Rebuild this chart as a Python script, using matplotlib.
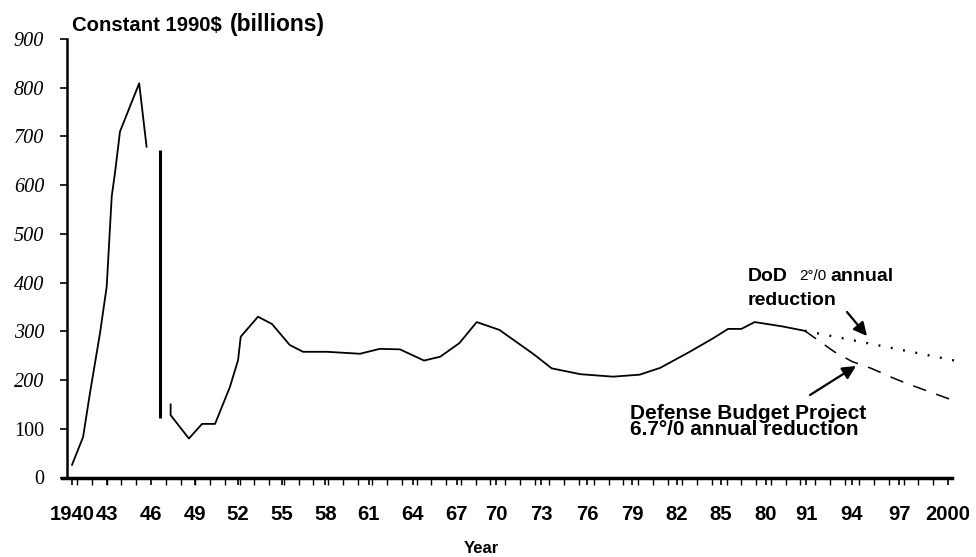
import matplotlib
matplotlib.use("Agg")
import matplotlib.pyplot as plt
import numpy as np

# ---- data ----
hist_years = [1940.65, 1941.4, 1941.87, 1942.55, 1943.0, 1943.34, 1943.56, 1943.9,
              1945.2, 1945.7, np.nan,
              1947.33, 1947.33, 1948.57, 1949.46, 1950.34, 1951.35, 1951.9, 1952.08,
              1953.25, 1954.2, 1955.4, 1956.3, 1957.9, 1960.16, 1961.5, 1962.87,
              1964.5, 1965.6, 1966.9, 1968.07, 1969.6, 1971.7, 1972.1, 1973.15,
              1975.1, 1977.3, 1979.1, 1980.5, 1982.5, 1984.1, 1985.1, 1986.0, 1986.9,
              1988.8, 1990.3]
hist_values = [26, 83, 174, 297, 392, 577, 625, 710,
               809, 679, np.nan,
               150, 128, 80, 110, 110, 186, 241, 289,
               330, 315, 272, 258, 258, 254, 264, 263,
               240, 248, 276, 319, 303, 258, 249, 224,
               212, 207, 211, 225, 258, 286, 305, 305, 319,
               310, 301]

# post-war drop (drawn as a heavy vertical stroke in the original)
drop_year = [1946.6]
drop_top = [672]
drop_bottom = [122]

# projections
dod_years = [1990.3, 1992.0, 1994.0, 1996.0, 1998.0, 2000.95]
dod_values = [301, 291, 279, 267, 255, 237]

dbp_years = [1990.3, 1992.3, 1993.5, 1994.8, 1996.3, 1997.2, 2000.1]
dbp_values = [301, 258, 238, 224, 204, 193, 161]

xtick_pos = [1940.65, 1943.02, 1946, 1948.95, 1951.89, 1954.88, 1957.82, 1960.77,
             1963.75, 1966.73, 1969.37, 1972.42, 1975.54, 1978.59, 1981.64, 1984.62,
             1987.67, 1990.38, 1993.49, 1996.68, 2000]
xtick_labels = ["1940", "43", "46", "49", "52", "55", "58", "61", "64", "67", "70",
                "73", "76", "79", "82", "85", "80", "91", "94", "97", "2000"]
ytick_vals = [0, 100, 200, 300, 400, 500, 600, 700, 800, 900]

W, H = 976, 557
fig = plt.figure(figsize=(W / 100, H / 100), dpi=100)
ax = fig.add_axes([67 / W, 1 - 477.5 / H, (952 - 67) / W, (477.5 - 39) / H])

def fp(x, y):
    return (x / W, 1 - y / H)

ax.plot(hist_years, hist_values, color="black", lw=1.3)
ax.vlines(drop_year, drop_bottom, drop_top, color="black", lw=2.2)
ax.plot(dod_years, dod_values, color="black", lw=1.7, linestyle=(0, (0.8, 4.5)),
        clip_on=False)
ax.plot(dbp_years, dbp_values, color="black", lw=1.1, linestyle=(0, (9, 7)),
        clip_on=False)

ax.set_xlim(1940.31, 2000.27)
ax.set_ylim(0, 900)

for s in ("top", "right"):
    ax.spines[s].set_visible(False)
ax.spines["left"].set_linewidth(1.8)
ax.spines["bottom"].set_linewidth(2.5)
ax.spines["bottom"].set_bounds(1939.97, 2000.27)
ax.spines["bottom"].set_clip_on(False)

ax.set_yticks(ytick_vals)
ax.set_yticklabels([str(v) for v in ytick_vals], family="Liberation Serif",
                   style="italic", fontsize=14.5)
for lab in ax.get_yticklabels()[:2]:
    lab.set_style("normal")
ax.tick_params(axis="y", length=5, width=1.2, pad=11.5, direction="out")

ax.set_xticks(xtick_pos)
ax.set_xticklabels(xtick_labels, family="Liberation Sans", fontweight="bold",
                   fontsize=14.6)
ax.set_xticks(np.arange(1941, 2001), minor=True)
ax.tick_params(axis="x", which="major", length=5, width=1.2, pad=15)
ax.tick_params(axis="x", which="minor", length=5, width=1.0)

fig.text(*fp(72, 31), "Constant 1990$", family="Liberation Sans", fontweight="bold",
         fontsize=14.6, va="baseline", ha="left")
fig.text(*fp(230, 31), "(billions)", family="Liberation Sans", fontweight="bold",
         fontsize=16.4, va="baseline", ha="left")
fig.text(*fp(481, 553), "Year", family="Liberation Sans", fontweight="bold",
         fontsize=12, va="baseline", ha="center")

# DoD annotation
fig.text(*fp(748, 281), "DoD", family="Liberation Sans", fontweight="bold",
         fontsize=14, va="baseline")
fig.text(*fp(799, 280), "2°/0", family="Liberation Sans", fontsize=11,
         va="baseline")
fig.text(*fp(830, 281), "annual", family="Liberation Sans", fontweight="bold",
         fontsize=14, va="baseline")
fig.text(*fp(748, 305), "reduction", family="Liberation Sans", fontweight="bold",
         fontsize=14, va="baseline")
ax.annotate("", xy=fp(867, 336), xytext=fp(847, 312), xycoords="figure fraction",
            textcoords="figure fraction",
            arrowprops=dict(arrowstyle="-|>", color="black", lw=1.6,
                            mutation_scale=20, shrinkA=0, shrinkB=0))

# Defense Budget Project annotation
fig.text(*fp(630, 404), "Defense Budget Project\n6.7°/0 annual reduction",
         family="Liberation Sans", fontweight="bold", fontsize=15, va="top",
         ha="left", linespacing=0.82)
ax.annotate("", xy=fp(856, 366), xytext=fp(810, 395), xycoords="figure fraction",
            textcoords="figure fraction",
            arrowprops=dict(arrowstyle="-|>", color="black", lw=1.6,
                            mutation_scale=20, shrinkA=0, shrinkB=0))

fig.savefig("out.png", dpi=100)
